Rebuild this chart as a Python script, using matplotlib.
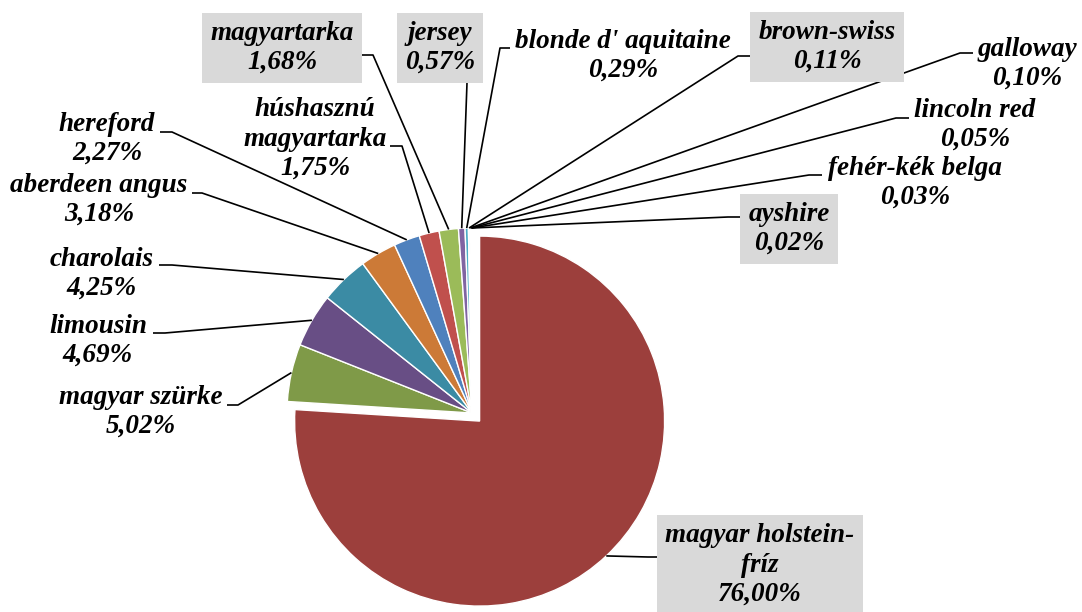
import numpy as np
import matplotlib
matplotlib.use("Agg")
import matplotlib.pyplot as plt

W, H = 1082, 612

# breed shares (%), clockwise from 12 o'clock
breeds = [
    "magyar holstein-\nfríz", "magyar szürke", "limousin", "charolais",
    "aberdeen angus", "hereford", "húshasznú\nmagyartarka", "magyartarka",
    "jersey", "blonde d' aquitaine", "brown-swiss", "galloway",
    "lincoln red", "fehér-kék belga", "ayshire",
]
shares = [76.00, 5.02, 4.69, 4.25, 3.18, 2.27, 1.75, 1.68,
          0.57, 0.29, 0.11, 0.10, 0.05, 0.03, 0.02]
colors = ["#9C3F3C", "#7F9A48", "#684E85", "#3B8BA4", "#CC7A37", "#4F81BD",
          "#C0504D", "#9BBB59", "#8064A2", "#4BACC6", "#F79646", "#2C4D75",
          "#772C2A", "#5F7530", "#4D3B62"]
boxed = [True, False, False, False, False, False, False, True,
         True, False, True, False, False, False, True]

# label layout in pixel coords (text centre, leader start, leader elbow)
label_xy = [(760, 565), (141, 412), (98, 341), (102, 274), (99, 200),
            (107, 139), (315, 139), (282, 48), (440, 48), (623, 56),
            (827, 47), (1027, 64), (975, 125), (915, 183), (789, 229)]
lead_start = [(660, 557), (227, 405), (153, 333), (159, 265), (192, 193),
              (160, 132), (390, 146), (362, 55), (467, 83), (510, 48),
              (750, 56), (973, 53), (909, 118), (822, 175), (740, 217)]
lead_elbow = [(648, 557), (238, 405), (165, 333), (172, 265), (202, 193),
              (172, 132), (402, 146), (373, 55), (467, 83), (500, 48),
              (738, 56), (960, 53), (896, 118), (809, 175), (728, 217)]

fig = plt.figure(figsize=(W / 100, H / 100), dpi=100)
ax = fig.add_axes([0, 0, 1, 1])

radius = 185
explode = [0.06 * radius] + [0] * (len(shares) - 1)
wedges, _ = ax.pie(shares, colors=colors, startangle=90, counterclock=False,
                   center=(472, H - 413), radius=radius, explode=explode,
                   wedgeprops=dict(edgecolor="white", linewidth=1.0))
ax.set_xlim(0, W)
ax.set_ylim(0, H)
ax.set_aspect("equal")
ax.axis("off")

font = dict(family="Liberation Serif", weight="bold", style="italic", size=19.5)

for i, w in enumerate(wedges):
    mid = np.deg2rad((w.theta1 + w.theta2) / 2)
    cx, cy = w.center
    ax_pt = (cx + w.r * np.cos(mid), cy + w.r * np.sin(mid))
    sx, sy = lead_start[i]
    ex, ey = lead_elbow[i]
    ax.plot([sx, ex, ax_pt[0]], [H - sy, H - ey, ax_pt[1]], color="black",
            lw=1.2, solid_capstyle="butt", zorder=1)
    pct = f"{shares[i]:.2f}".replace(".", ",") + "%"
    tx, ty = label_xy[i]
    bbox = dict(boxstyle="square,pad=0.3", fc="#D9D9D9", ec="none") if boxed[i] else None
    ax.text(tx, H - ty, f"{breeds[i]}\n{pct}", ha="center", va="center",
            linespacing=1.22, bbox=bbox, zorder=3, **font)

fig.savefig("out.png", dpi=100)
